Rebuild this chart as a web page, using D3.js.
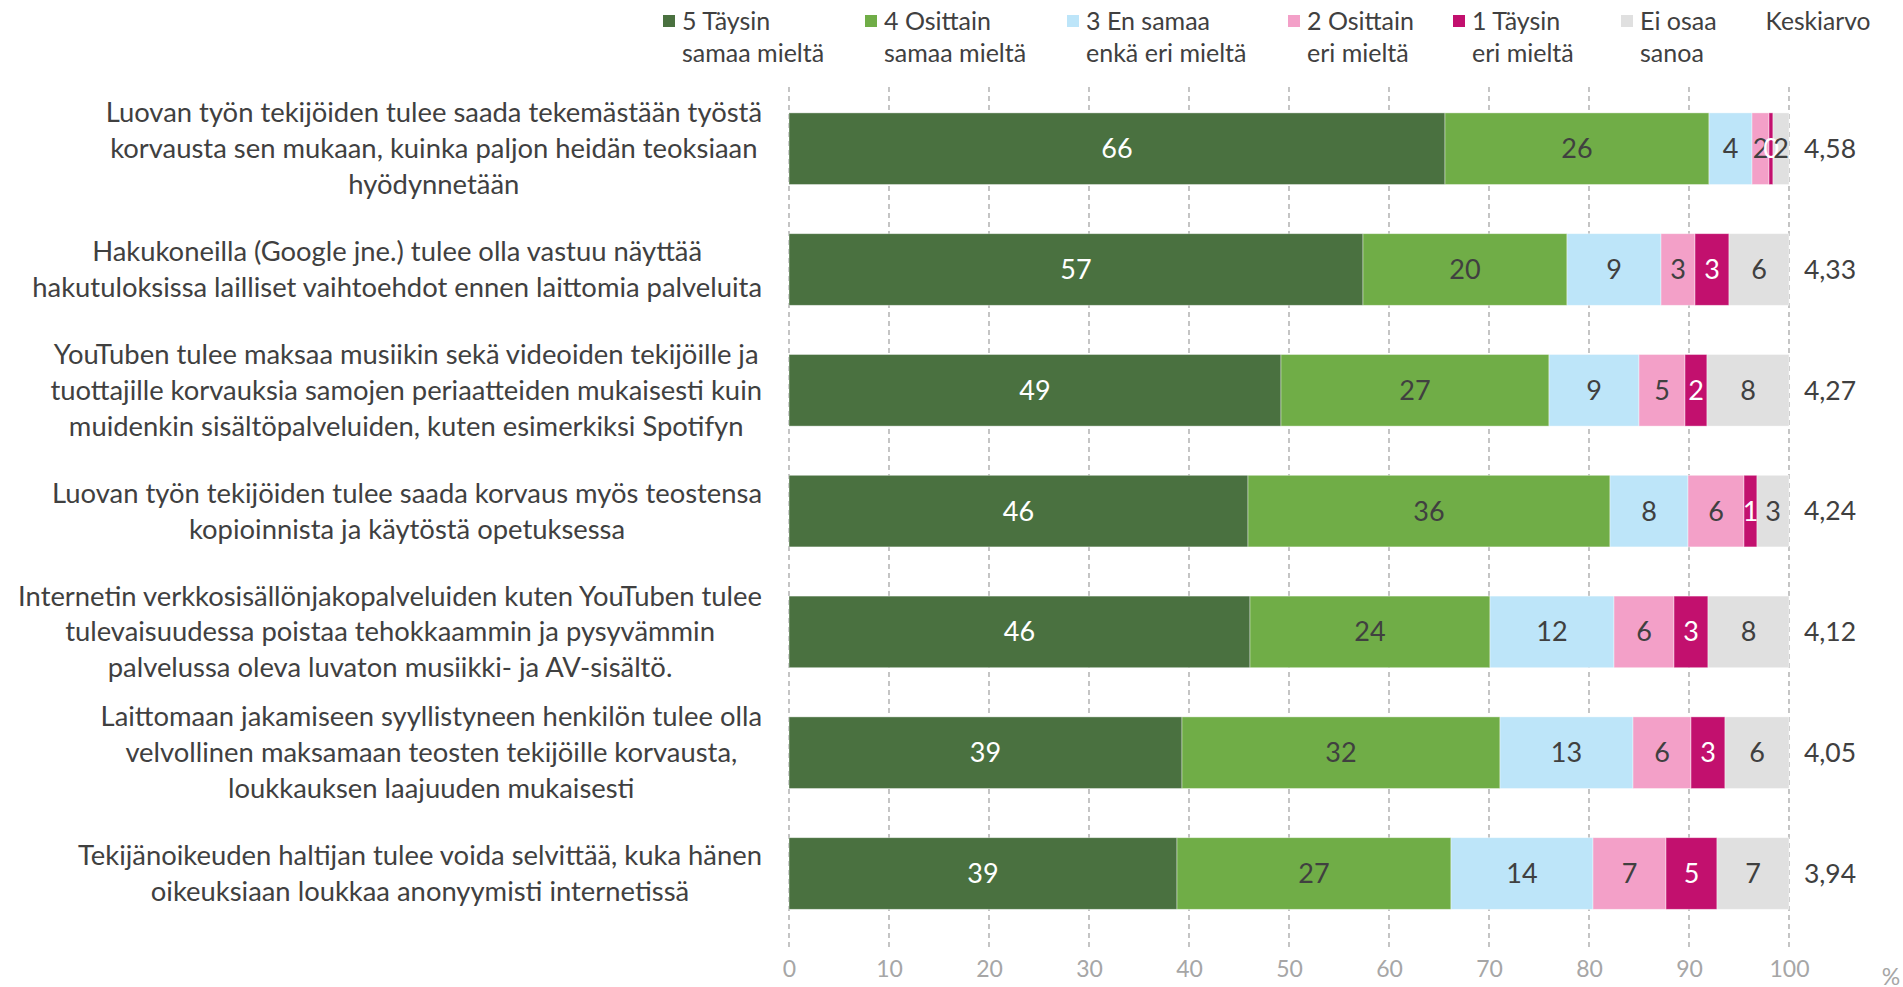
<!DOCTYPE html>
<html>
<head>
<meta charset="utf-8">
<script src="https://cdn.jsdelivr.net/npm/d3@7"></script>
<style>
  body { margin: 0; background: #fff; }
  svg { display: block; font-family: Lato, "Open Sans", sans-serif; }
</style>
</head>
<body>
<div id="chart"></div>
<script>
// väittämät (rivitetty kuten alkuperäisessä)
const statements = [
  ["Luovan työn tekijöiden tulee saada tekemästään työstä", "korvausta sen mukaan, kuinka paljon heidän teoksiaan", "hyödynnetään"],
  ["Hakukoneilla (Google jne.) tulee olla vastuu näyttää", "hakutuloksissa lailliset vaihtoehdot ennen laittomia palveluita"],
  ["YouTuben tulee maksaa musiikin sekä videoiden tekijöille ja", "tuottajille korvauksia samojen periaatteiden mukaisesti kuin", "muidenkin sisältöpalveluiden, kuten esimerkiksi Spotifyn"],
  ["Luovan työn tekijöiden tulee saada korvaus myös teostensa", "kopioinnista ja käytöstä opetuksessa"],
  ["Internetin verkkosisällönjakopalveluiden kuten YouTuben tulee", "tulevaisuudessa poistaa tehokkaammin ja pysyvämmin", "palvelussa oleva luvaton musiikki- ja AV-sisältö."],
  ["Laittomaan jakamiseen syyllistyneen henkilön tulee olla", "velvollinen maksamaan teosten tekijöille korvausta,", "loukkauksen laajuuden mukaisesti"],
  ["Tekijänoikeuden haltijan tulee voida selvittää, kuka hänen", "oikeuksiaan loukkaa anonyymisti internetissä"]
];

// vastausvaihtoehdot (legenda)
const seriesNames = [
  ["5 Täysin", "samaa mieltä"],
  ["4 Osittain", "samaa mieltä"],
  ["3 En samaa", "enkä eri mieltä"],
  ["2 Osittain", "eri mieltä"],
  ["1 Täysin", "eri mieltä"],
  ["Ei osaa", "sanoa"]
];
const seriesColors = ["#4a7140", "#70ad47", "#bde5f9", "#f3a0c8", "#c2106e", "#e0e0e0"];
const labelColors = ["#fff", "#404040", "#404040", "#404040", "#fff", "#404040"];

// prosenttiosuudet, yksi taulukko per vastausvaihtoehto
const taysinSamaa   = [65.6, 57.4, 49.2, 45.9, 46.1, 39.3, 38.8];
const osittainSamaa = [26.4, 20.4, 26.8, 36.2, 24.0, 31.8, 27.4];
const enSamaaEnkaEri = [4.3, 9.4, 9.0, 7.8, 12.4, 13.3, 14.2];
const osittainEri   = [1.7, 3.4, 4.6, 5.6, 6.0, 5.8, 7.3];
const taysinEri     = [0.4, 3.4, 2.2, 1.3, 3.4, 3.4, 5.1];
const eiOsaa        = [1.6, 6.0, 8.2, 3.2, 8.1, 6.4, 7.2];

// keskiarvot
const means = ["4,58", "4,33", "4,27", "4,24", "4,12", "4,05", "3,94"];

const xTicks = [0, 10, 20, 30, 40, 50, 60, 70, 80, 90, 100];

const width = 1903, height = 987;
const keys = ["s5", "s4", "s3", "s2", "s1", "eos"];
const cols = [taysinSamaa, osittainSamaa, enSamaaEnkaEri, osittainEri, taysinEri, eiOsaa];

const rows = statements.map((s, i) => {
  const r = { id: i };
  keys.forEach((k, j) => r[k] = cols[j][i]);
  return r;
});

const stacked = d3.stack().keys(keys)(rows);

// mittakaavat
const x = d3.scaleLinear().domain([0, 100]).range([789, 1789]);
const y = d3.scaleBand()
  .domain(rows.map(d => d.id))
  .range([88.3, 88.3 + 7 * 120.8])
  .paddingInner(0.407)
  .paddingOuter(0.2035);

const svg = d3.select("#chart").append("svg")
  .attr("width", width)
  .attr("height", height);

// ruudukko
svg.append("g")
  .selectAll("line")
  .data(xTicks)
  .join("line")
  .attr("x1", d => x(d)).attr("x2", d => x(d))
  .attr("y1", 87).attr("y2", 951)
  .attr("stroke", "#a6a6a6")
  .attr("stroke-width", 1.3)
  .attr("stroke-dasharray", "5,4");

// x-akseli
const xAxis = g => g
  .attr("transform", `translate(0,969)`)
  .call(d3.axisBottom(x).tickValues(xTicks).tickSize(0).tickPadding(0))
  .call(g => g.select(".domain").remove())
  .call(g => g.selectAll("text")
    .attr("dy", "0.35em")
    .attr("fill", "#a6a6a6")
    .style("font-size", "23px")
    .style("font-family", "Lato, sans-serif"));
svg.append("g").call(xAxis);

svg.append("text")
  .attr("x", 1891).attr("y", 977)
  .attr("dy", "0.35em")
  .attr("text-anchor", "middle")
  .attr("fill", "#a6a6a6")
  .style("font-size", "23px")
  .text("%");

// pinotut palkit
const layer = svg.append("g")
  .selectAll("g")
  .data(stacked)
  .join("g")
  .attr("fill", (d, i) => seriesColors[i]);

layer.selectAll("rect")
  .data(d => d)
  .join("rect")
  .attr("x", d => x(d[0]))
  .attr("y", d => y(d.data.id))
  .attr("width", d => x(d[1]) - x(d[0]))
  .attr("height", y.bandwidth())
  .attr("stroke", "#fff")
  .attr("stroke-opacity", 0.5)
  .attr("stroke-width", 0.8);

// arvojen tekstit
svg.append("g")
  .selectAll("g")
  .data(stacked)
  .join("g")
  .attr("fill", (d, i) => labelColors[i])
  .selectAll("text")
  .data(d => d)
  .join("text")
  .attr("x", d => (x(d[0]) + x(d[1])) / 2)
  .attr("y", d => y(d.data.id) + y.bandwidth() / 2)
  .attr("dy", "0.35em")
  .attr("text-anchor", "middle")
  .style("font-size", "27px")
  .text(d => Math.round(d[1] - d[0]));

// keskiarvot
svg.append("g")
  .selectAll("text")
  .data(means)
  .join("text")
  .attr("x", 1830)
  .attr("y", (d, i) => y(i) + y.bandwidth() / 2)
  .attr("dy", "0.35em")
  .attr("text-anchor", "middle")
  .attr("fill", "#404040")
  .style("font-size", "26.5px")
  .text(d => d);

svg.append("text")
  .attr("x", 1818).attr("y", 21)
  .attr("dy", "0.35em")
  .attr("text-anchor", "middle")
  .attr("fill", "#404040")
  .style("font-size", "24.6px")
  .text("Keskiarvo");

// väittämien tekstit: rivit keskitetty, lohko kiinni akselissa
const lineH = 35.8;
const labelRight = 762;
statements.forEach((lines, i) => {
  const g = svg.append("g").attr("fill", "#404040").style("font-size", "27.4px");
  const cy = y(i) + y.bandwidth() / 2;
  const texts = lines.map((t, k) => g.append("text")
    .attr("y", cy + (k - (lines.length - 1) / 2) * lineH)
    .attr("dy", "0.35em")
    .attr("text-anchor", "middle")
    .text(t));
  const maxW = d3.max(texts, t => t.node().getComputedTextLength());
  texts.forEach(t => t.attr("x", labelRight - maxW / 2));
});

// legenda
const legendX = [663, 865, 1067, 1288, 1453, 1621];
const legend = svg.append("g")
  .selectAll("g")
  .data(seriesNames)
  .join("g")
  .attr("transform", (d, i) => `translate(${legendX[i]},0)`);

legend.append("rect")
  .attr("x", 0).attr("y", 15)
  .attr("width", 12).attr("height", 12)
  .attr("fill", (d, i) => seriesColors[i]);

legend.selectAll("text")
  .data(d => d)
  .join("text")
  .attr("x", 19)
  .attr("y", (d, k) => 21 + k * 32.5)
  .attr("dy", "0.35em")
  .attr("fill", "#404040")
  .style("font-size", "25px")
  .text(d => d);
</script>
</body>
</html>
